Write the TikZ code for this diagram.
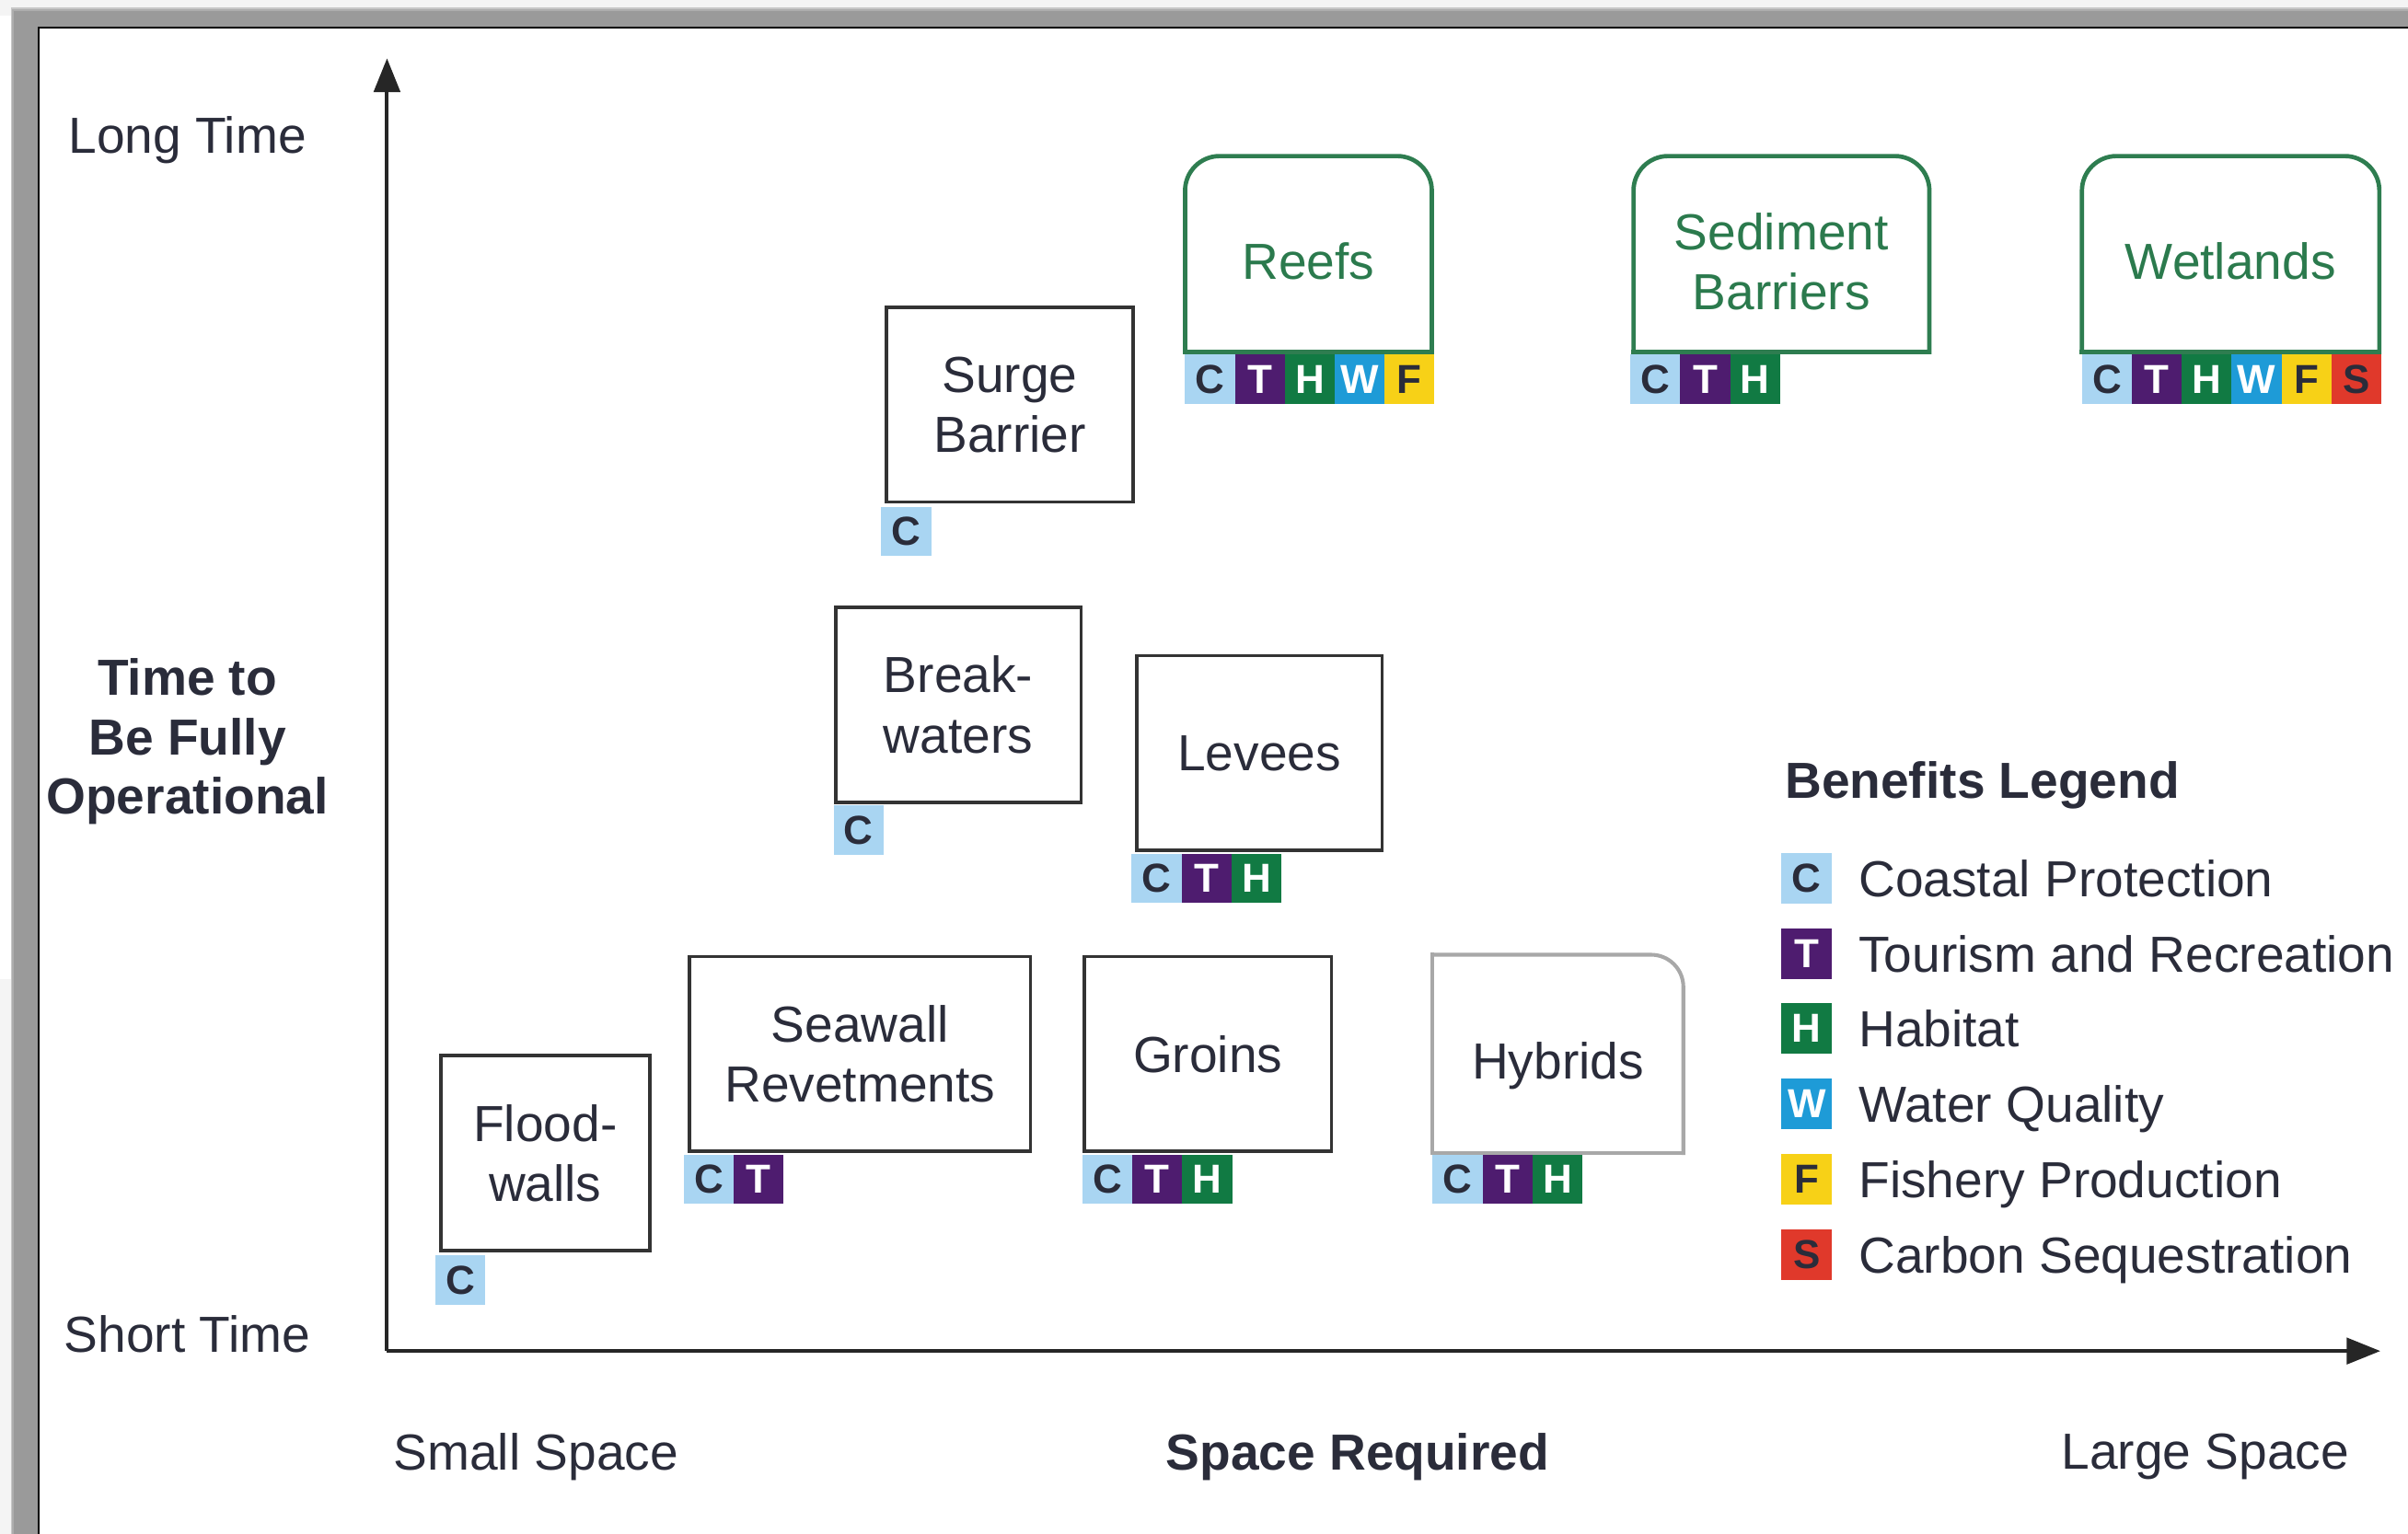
\documentclass[tikz,border=0pt]{standalone}
\usepackage{fontspec}
\setmainfont{Liberation Sans}
\usetikzlibrary{arrows.meta}
\definecolor{cC}{HTML}{A9D5F2}
\definecolor{cT}{HTML}{4E1C6F}
\definecolor{cH}{HTML}{117A43}
\definecolor{cW}{HTML}{1E9BD7}
\definecolor{cF}{HTML}{F7D117}
\definecolor{cS}{HTML}{E0392B}
\definecolor{darktext}{HTML}{2A2C3A}
\definecolor{greenline}{HTML}{2E7D50}
\definecolor{greentext}{HTML}{2B7A4D}
\definecolor{hybline}{HTML}{A8A8A8}
\definecolor{boxline}{HTML}{333333}
\definecolor{pagebg}{HTML}{F4F4F4}
\definecolor{bandgray}{HTML}{9A9A9A}
\newcommand\mainfs{\fontsize{18.8}{22.2}\selectfont}
\newcommand\badgefs{\fontsize{15}{15}\selectfont\bfseries}
\newcommand\lowtext[1]{\raisebox{-9.2pt}[0pt][0pt]{#1}}
\tikzset{
  box/.style={draw=boxline, line width=1.3pt, minimum height=2.54cm, inner sep=0pt, align=center, text=darktext, font=\mainfs},
  gbox/.style={minimum height=2.54cm, inner sep=0pt, align=center, text=greentext, font=\mainfs},
  gline/.style={draw=greenline, line width=1.6pt, line cap=rect},
  hline/.style={draw=hybline, line width=1.4pt, line cap=rect},
  badgebase/.style={minimum width=0.65cm, minimum height=0.64cm, inner sep=0pt, outer sep=0pt, font=\badgefs},
  bC/.style={badgebase, fill=cC, text=darktext},
  bT/.style={badgebase, fill=cT, text=white},
  bH/.style={badgebase, fill=cH, text=white},
  bW/.style={badgebase, fill=cW, text=white},
  bF/.style={badgebase, fill=cF, text=darktext},
  bS/.style={badgebase, fill=cS, text=darktext},
  lbadge/.style={minimum width=0.66cm, minimum height=0.66cm},
  lbl/.style={font=\mainfs, text=darktext, align=center},
  lblb/.style={font=\mainfs\bfseries, text=darktext, align=center},
  legtext/.style={font=\mainfs, text=darktext, anchor=base west, inner sep=0pt},
  axis/.style={line width=1.4pt, draw=black!85, -{Triangle[width=0.34cm,length=0.44cm]}}
}
\begin{document}
\begin{tikzpicture}[x=0.02cm, y=-0.02cm]
\useasboundingbox (0,0) rectangle (1568,999);
% frame
\fill[pagebg] (0,0) rectangle (1568,999);
\fill[white] (0,10) rectangle (9,638);
\fill[black!22] (7,5) rectangle (1568,999);
\fill[black!32] (8,6) rectangle (1568,999);
\fill[bandgray] (9,7) rectangle (1568,999);
\fill[white] (25,18) rectangle (1568,999);
\draw[black, line width=0.7pt] (25,999) -- (25,18) -- (1568,18);

% axes
\coordinate (origin) at (252,880);
\coordinate (ytip) at (252,38);
\coordinate (xtip) at (1550,880);
\draw[axis] (origin) -- (ytip);
\draw[axis] (origin) -- (xtip);

% axis labels
\node[lbl] (longtime) at (122,91) {Long Time};
\node[lbl] (shorttime) at (122,869) {Short Time};
\node[lblb, font=\fontsize{18.8}{21.9}\selectfont\bfseries] (ylabel) at (122,483) {Time to\\Be Fully\\Operational};
\node[lbl] (smallspace) at (349,949) {Small Space};
\node[lblb] (xlabel) at (884,949) {Space Required};
\node[lbl] (largespace) at (1436,949) {Large Space};

% grey boxes
\node[box, minimum width=2.72cm] (flood) at (355,751) {Flood-\\walls};
\node[box, minimum width=4.44cm] (seawall) at (560,686.5) {Seawall\\Revetments};
\node[box, minimum width=3.22cm] (groins) at (786.5,686.5) {Groins};
\node[box, minimum width=3.2cm] (break) at (624,459) {Break-\\waters};
\node[box, minimum width=3.2cm] (levees) at (820,490.5) {Levees};
\node[box, minimum width=3.22cm] (surge) at (657.5,263.5) {Surge\\Barrier};

% hybrids
\node[box, draw=none, minimum width=3.22cm] (hyb) at (1014.5,686.5) {\lowtext{Hybrids}};
\draw[hline, rounded corners=0.42cm] (hyb.north west) -- (hyb.north east) -- (hyb.south east);
\draw[hline] (hyb.south east) -- (hyb.south west) -- (hyb.north west);

% green boxes
\node[gbox, minimum width=3.2cm] (reefs) at (852,165.5) {\lowtext{Reefs}};
\node[gbox, minimum width=3.84cm] (sediment) at (1160,165.5) {\raisebox{-20.6pt}[0pt][0pt]{\begin{tabular}[b]{@{}c@{}}Sediment\\Barriers\end{tabular}}};
\node[gbox, minimum width=3.86cm] (wetlands) at (1452.5,165.5) {\lowtext{Wetlands}};
\foreach \b in {reefs,sediment,wetlands}{
  \draw[gline, rounded corners=0.45cm] (\b.south west) -- (\b.north west) -- (\b.north east) -- (\b.south east);
  \draw[gline] (\b.south west) -- (\b.south east);
}

% badges
\node[bC, anchor=north west] (flood-c) at ([xshift=-0.05cm,yshift=-1.2pt]flood.south west) {C};

\node[bC, anchor=north west] (seawall-c) at ([xshift=-0.05cm,yshift=-0.6pt]seawall.south west) {C};
\node[bT, anchor=west] (seawall-t) at (seawall-c.east) {T};

\node[bC, anchor=north west] (groins-c) at ([yshift=-0.6pt]groins.south west) {C};
\node[bT, anchor=west] (groins-t) at (groins-c.east) {T};
\node[bH, anchor=west] (groins-h) at (groins-t.east) {H};

\node[bC, anchor=north west] (hyb-c) at ([yshift=-0.6pt]hyb.south west) {C};
\node[bT, anchor=west] (hyb-t) at (hyb-c.east) {T};
\node[bH, anchor=west] (hyb-h) at (hyb-t.east) {H};

\node[bC, anchor=north west] (break-c) at ([yshift=-0.6pt]break.south west) {C};

\node[bC, anchor=north west] (levees-c) at ([xshift=-0.04cm,yshift=-0.6pt]levees.south west) {C};
\node[bT, anchor=west] (levees-t) at (levees-c.east) {T};
\node[bH, anchor=west] (levees-h) at (levees-t.east) {H};

\node[bC, anchor=north west] (surge-c) at ([xshift=-0.04cm,yshift=-1.2pt]surge.south west) {C};

\node[bC, anchor=north west] (reefs-c) at ([yshift=-0.9pt]reefs.south west) {C};
\node[bT, anchor=west] (reefs-t) at (reefs-c.east) {T};
\node[bH, anchor=west] (reefs-h) at (reefs-t.east) {H};
\node[bW, anchor=west] (reefs-w) at (reefs-h.east) {W};
\node[bF, anchor=west] (reefs-f) at (reefs-w.east) {F};

\node[bC, anchor=north west] (sediment-c) at ([xshift=-0.04cm,yshift=-0.9pt]sediment.south west) {C};
\node[bT, anchor=west] (sediment-t) at (sediment-c.east) {T};
\node[bH, anchor=west] (sediment-h) at (sediment-t.east) {H};

\node[bC, anchor=north west] (wetlands-c) at ([yshift=-0.9pt]wetlands.south west) {C};
\node[bT, anchor=west] (wetlands-t) at (wetlands-c.east) {T};
\node[bH, anchor=west] (wetlands-h) at (wetlands-t.east) {H};
\node[bW, anchor=west] (wetlands-w) at (wetlands-h.east) {W};
\node[bF, anchor=west] (wetlands-f) at (wetlands-w.east) {F};
\node[bS, anchor=west] (wetlands-s) at (wetlands-f.east) {S};

% legend
\node[font=\mainfs\bfseries, text=darktext, anchor=base west, inner sep=0pt] (legtitle) at (1162,520) {Benefits Legend};
\node[bC, lbadge] (leg-c) at (1176.5,572) {C};
\node[legtext] (leg-ct) at (1210,584) {Coastal Protection};
\node[bT, lbadge] (leg-t) at (1176.5,621) {T};
\node[legtext] (leg-tt) at (1210,633) {Tourism and Recreation};
\node[bH, lbadge] (leg-h) at (1176.5,670) {H};
\node[legtext] (leg-ht) at (1210,682) {Habitat};
\node[bW, lbadge] (leg-w) at (1176.5,719) {W};
\node[legtext] (leg-wt) at (1210,731) {Water Quality};
\node[bF, lbadge] (leg-f) at (1176.5,768) {F};
\node[legtext] (leg-ft) at (1210,780) {Fishery Production};
\node[bS, lbadge] (leg-s) at (1176.5,817) {S};
\node[legtext] (leg-st) at (1210,829) {Carbon Sequestration};
\end{tikzpicture}
\end{document}
